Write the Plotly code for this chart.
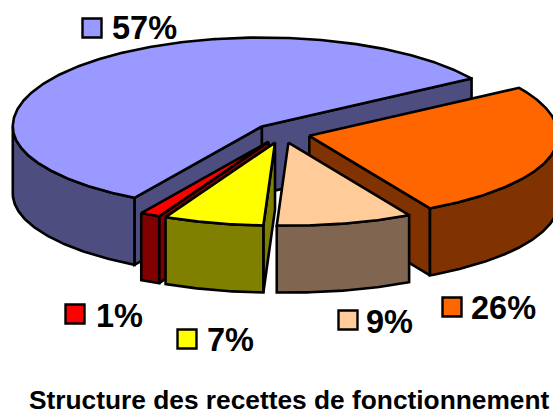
import numpy as np
import plotly.graph_objects as go

# Data
categories = ["Bleu", "Rouge", "Jaune", "Pêche", "Orange"]
values = [57.4, 1.3, 6.5, 8.8, 26.0]
percent_labels = ["57%", "1%", "7%", "9%", "26%"]
title_text = "Structure des recettes de fonctionnement"

# Style
top_colors = ["#9999FF", "#FF0000", "#FFFF00", "#FFCC99", "#FF6600"]
side_colors = ["#4D4D80", "#800000", "#808000", "#806650", "#803300"]
key_xy = [(92, 28), (75, 314), (187, 339), (348, 320), (452, 307)]
text_xy = [(110, 28), (94, 316), (205, 340), (364, 322), (469, 308)]
draw_order = [0, 4, 3, 1, 2]

CX, CY, A, B_UP, B_LOW, DEPTH, EXPLODE, START = 282, 133.5, 249, 89, 83, 67, 0.113, 32.6
W, H = 553, 415

fractions = np.array(values) / sum(values)
ends = START + np.cumsum(fractions) * 360
starts = np.concatenate([[START], ends[:-1]])


def arc(t0, t1, ox, oy):
    ts = np.radians(np.linspace(t0, t1, max(int(abs(t1 - t0) * 2), 2)))
    s = np.sin(ts)
    return ox + A * np.cos(ts), oy - np.where(s > 0, B_UP, B_LOW) * s


def poly(fig, xs, ys, color):
    fig.add_trace(go.Scatter(
        x=np.append(xs, xs[0]), y=np.append(ys, ys[0]), mode="lines", fill="toself",
        fillcolor=color, line=dict(color="black", width=2.6), hoverinfo="skip", showlegend=False))


fig = go.Figure()
for i in draw_order:
    t0, t1 = starts[i], ends[i]
    mid = np.radians((t0 + t1) / 2)
    ox = CX + EXPLODE * A * np.cos(mid)
    oy = CY - EXPLODE * (B_UP if np.sin(mid) > 0 else B_LOW) * np.sin(mid)
    # radial side faces that turn towards the viewer
    visible = []
    if np.cos(np.radians(t0)) > 0:
        visible.append(t0)
    if np.cos(np.radians(t1)) < 0:
        visible.append(t1)
    for t in visible:
        ex, ey = arc(t, t, ox, oy)
        poly(fig, np.array([ox, ex[0], ex[0], ox]), np.array([oy, ey[0], ey[0] + DEPTH, oy + DEPTH]), side_colors[i])
    # outer wall (front half of the ellipse only)
    w0, w1 = None, None
    for lo, hi in ((180, 360), (540, 720)):
        a, b = max(t0, lo), min(t1, hi)
        if a < b:
            w0, w1 = a, b
    if w0 is not None:
        xs, ys = arc(w0, w1, ox, oy)
        poly(fig, np.concatenate([xs, xs[::-1]]), np.concatenate([ys, ys[::-1] + DEPTH]), side_colors[i])
    # top
    xs, ys = arc(t0, t1, ox, oy)
    poly(fig, np.concatenate([[ox], xs]), np.concatenate([[oy], ys]), top_colors[i])

fig.add_trace(go.Scatter(
    x=[p[0] for p in key_xy], y=[p[1] for p in key_xy], mode="markers",
    marker=dict(symbol="square", size=19, color=top_colors, line=dict(color="black", width=2.4)),
    hoverinfo="skip", showlegend=False))

for lab, (x, y) in zip(percent_labels, text_xy):
    fig.add_annotation(x=x, y=y, text=f"<b>{lab}</b>", showarrow=False, xanchor="left", yanchor="middle",
                       font=dict(family="Liberation Sans", size=32.5, color="black"))
fig.add_annotation(x=27, y=400, text=f"<b>{title_text}</b>", showarrow=False, xanchor="left", yanchor="middle",
                   font=dict(family="Liberation Sans", size=26.3, color="black"))

fig.update_layout(width=W, height=H, margin=dict(l=0, r=0, t=0, b=0), paper_bgcolor="white", plot_bgcolor="white",
                  xaxis=dict(range=[0, W], visible=False, fixedrange=True),
                  yaxis=dict(range=[H, 0], visible=False, fixedrange=True))
fig.write_html("out.html", config={"displayModeBar": False},
               post_script="document.body.style.margin='0';document.body.style.overflow='hidden';")
